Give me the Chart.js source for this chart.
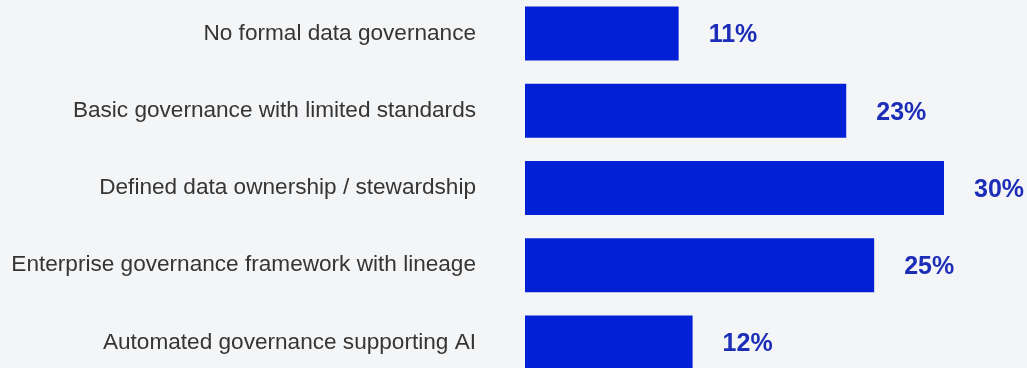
<!DOCTYPE html>
<html>
<head>
<meta charset="utf-8">
<script src="https://cdn.jsdelivr.net/npm/chart.js@4/dist/chart.umd.min.js"></script>
<style>
  html, body { margin: 0; padding: 0; background: #f4f5f7; overflow: hidden; }
  body { width: 1027px; height: 368px; position: relative; }
  #chart { position: absolute; left: 0; top: -5px; }
</style>
</head>
<body>
<canvas id="chart" width="1027" height="386"></canvas>
<script>
// Governance maturity levels and share of respondents (%)
const categories = [
  'No formal data governance',
  'Basic governance with limited standards',
  'Defined data ownership / stewardship',
  'Enterprise governance framework with lineage',
  'Automated governance supporting AI'
];
const shares = [11, 23, 30, 25, 12];

const BAR_COLOR = '#0420d6';
const VALUE_COLOR = '#1c2db8';
const LABEL_COLOR = '#353535';
const FONT = '"Liberation Sans", Arial, sans-serif';

// Writes the percentage to the right of each bar
const valueLabels = {
  id: 'valueLabels',
  afterDatasetsDraw(chart) {
    const ctx = chart.ctx;
    const meta = chart.getDatasetMeta(0);
    ctx.save();
    ctx.font = 'bold 25px ' + FONT;
    ctx.fillStyle = VALUE_COLOR;
    ctx.textAlign = 'left';
    ctx.textBaseline = 'middle';
    meta.data.forEach((bar, i) => {
      ctx.fillText(shares[i] + '%', bar.x + 30, bar.y + 2);
    });
    ctx.restore();
  }
};

new Chart(document.getElementById('chart'), {
  type: 'bar',
  data: {
    labels: categories,
    datasets: [{
      data: shares,
      backgroundColor: BAR_COLOR,
      borderWidth: 0,
      barPercentage: 0.7,
      categoryPercentage: 1.0
    }]
  },
  options: {
    indexAxis: 'y',
    responsive: false,
    animation: false,
    layout: { padding: 0 },
    plugins: {
      legend: { display: false },
      tooltip: { enabled: false }
    },
    scales: {
      x: {
        display: false,
        min: 0,
        max: 30 * 502 / 419
      },
      y: {
        grid: { display: false, drawTicks: false },
        border: { display: false },
        ticks: {
          color: LABEL_COLOR,
          font: { family: FONT, size: 22.6 },
          padding: 49
        },
        afterFit(scale) {
          // fixed label column; categories run edge to edge vertically
          scale.width = 525;
          scale.paddingTop = 0;
          scale.paddingBottom = 0;
        }
      }
    }
  },
  plugins: [valueLabels]
});
</script>
</body>
</html>
